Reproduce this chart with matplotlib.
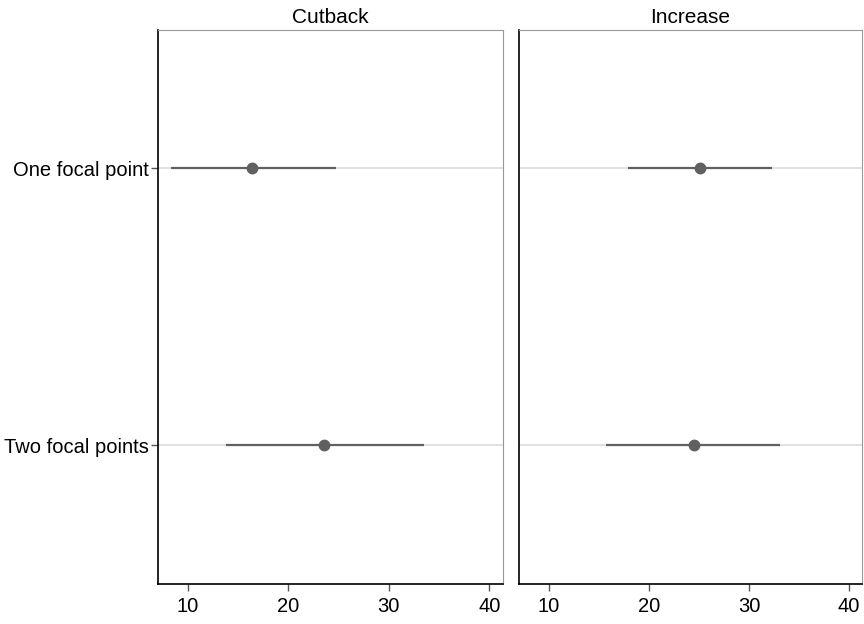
import matplotlib
matplotlib.use("Agg")
import matplotlib.pyplot as plt

plt.rcParams['font.family'] = ['Liberation Sans', 'DejaVu Sans']

panels = ["Cutback", "Increase"]
groups = ["One focal point", "Two focal points"]
# point estimate and interval ends, per panel, per group
est = {"Cutback": [16.4, 23.6], "Increase": [25.1, 24.5]}
lo = {"Cutback": [8.3, 13.8], "Increase": [17.9, 15.7]}
hi = {"Cutback": [24.7, 33.5], "Increase": [32.3, 33.1]}
xticks = [10, 20, 30, 40]

fig = plt.figure(figsize=(8.64, 6.24), dpi=100)
ax1 = fig.add_axes([0.1823, 0.0641, 0.3993, 0.8883])
ax2 = fig.add_axes([0.6007, 0.0641, 0.397, 0.8883])

ypos = [1, 2]
for ax, name in zip([ax1, ax2], panels):
    for y in ypos:
        ax.axhline(y, color='#dcdcdc', lw=1.2, zorder=1)
    ax.hlines(ypos, lo[name], hi[name], color='#606060', lw=1.6, zorder=2)
    ax.plot(est[name], ypos, 'o', color='#606060', ms=7.5, zorder=3)
    ax.set_xlim(7.0, 41.3)
    ax.set_ylim(2.5, 0.5)
    ax.set_xticks(xticks)
    ax.set_title(name, fontsize=15, pad=5)
    ax.tick_params(axis='x', direction='out', length=5, width=1, color='#555555',
                   labelsize=14.5, pad=4)
    ax.spines['left'].set_color('black')
    ax.spines['bottom'].set_color('black')
    ax.spines['left'].set_linewidth(1.2)
    ax.spines['bottom'].set_linewidth(1.2)
    ax.spines['top'].set_color('#999999')
    ax.spines['right'].set_color('#999999')

ax1.set_yticks(ypos)
ax1.set_yticklabels(groups)
ax1.tick_params(axis='y', direction='out', length=5, width=1, color='#555555',
                labelsize=14.5, pad=1)
ax2.set_yticks([])

fig.savefig("out.png", dpi=100)
